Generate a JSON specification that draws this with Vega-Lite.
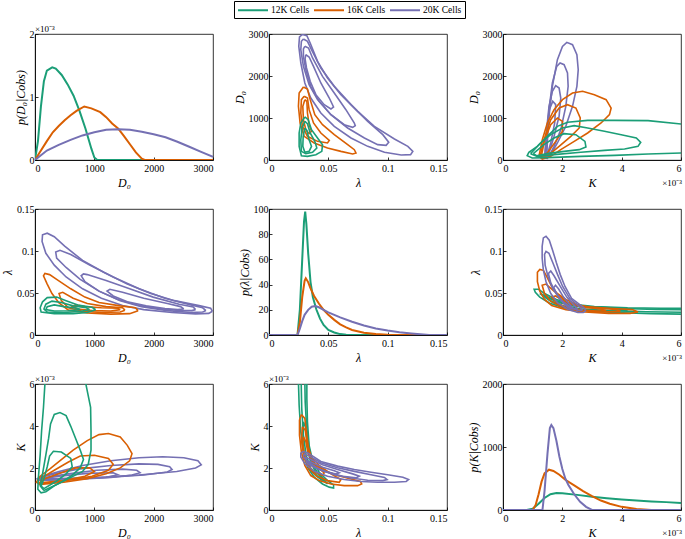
{
"$schema":"https://vega.github.io/schema/vega-lite/v6.json",
"autosize":{"type":"pad"},
"padding":{"left":1,"top":0,"right":0,"bottom":0},
"background":"white",
"columns":3,
"spacing":{"row":49,"column":56},
"bounds":"flush",
"resolve":{"scale":{"x":"independent","y":"independent","color":"shared"}},
"datasets":{
"md":[
{"s":"12K Cells","D0":0,"p":0},{"s":"12K Cells","D0":50,"p":0.3},{"s":"12K Cells","D0":100,"p":0.85},{"s":"12K Cells","D0":150,"p":1.25},{"s":"12K Cells","D0":200,"p":1.42},{"s":"12K Cells","D0":290,"p":1.47},{"s":"12K Cells","D0":350,"p":1.45},{"s":"12K Cells","D0":450,"p":1.35},{"s":"12K Cells","D0":550,"p":1.2},{"s":"12K Cells","D0":650,"p":1.02},{"s":"12K Cells","D0":750,"p":0.78},{"s":"12K Cells","D0":850,"p":0.5},{"s":"12K Cells","D0":950,"p":0.18},{"s":"12K Cells","D0":1000,"p":0.04},{"s":"12K Cells","D0":1050,"p":0},{"s":"12K Cells","D0":3000,"p":0},
{"s":"16K Cells","D0":0,"p":0},{"s":"16K Cells","D0":100,"p":0.15},{"s":"16K Cells","D0":200,"p":0.3},{"s":"16K Cells","D0":300,"p":0.44},{"s":"16K Cells","D0":400,"p":0.54},{"s":"16K Cells","D0":500,"p":0.63},{"s":"16K Cells","D0":600,"p":0.71},{"s":"16K Cells","D0":700,"p":0.78},{"s":"16K Cells","D0":830,"p":0.85},{"s":"16K Cells","D0":950,"p":0.82},{"s":"16K Cells","D0":1100,"p":0.76},{"s":"16K Cells","D0":1200,"p":0.68},{"s":"16K Cells","D0":1300,"p":0.58},{"s":"16K Cells","D0":1400,"p":0.5},{"s":"16K Cells","D0":1500,"p":0.38},{"s":"16K Cells","D0":1600,"p":0.25},{"s":"16K Cells","D0":1700,"p":0.12},{"s":"16K Cells","D0":1800,"p":0.02},{"s":"16K Cells","D0":1850,"p":0},{"s":"16K Cells","D0":3000,"p":0},
{"s":"20K Cells","D0":0,"p":0},{"s":"20K Cells","D0":200,"p":0.15},{"s":"20K Cells","D0":400,"p":0.24},{"s":"20K Cells","D0":600,"p":0.32},{"s":"20K Cells","D0":800,"p":0.39},{"s":"20K Cells","D0":1000,"p":0.44},{"s":"20K Cells","D0":1200,"p":0.48},{"s":"20K Cells","D0":1400,"p":0.49},{"s":"20K Cells","D0":1600,"p":0.48},{"s":"20K Cells","D0":1800,"p":0.45},{"s":"20K Cells","D0":2000,"p":0.41},{"s":"20K Cells","D0":2200,"p":0.36},{"s":"20K Cells","D0":2400,"p":0.29},{"s":"20K Cells","D0":2600,"p":0.21},{"s":"20K Cells","D0":2800,"p":0.13},{"s":"20K Cells","D0":3000,"p":0.05}
],
"ml":[
{"s":"12K Cells","lam":0,"p":0},{"s":"12K Cells","lam":0.024,"p":0},{"s":"12K Cells","lam":0.026,"p":20},{"s":"12K Cells","lam":0.028,"p":60},{"s":"12K Cells","lam":0.0295,"p":90},{"s":"12K Cells","lam":0.0305,"p":98},{"s":"12K Cells","lam":0.0315,"p":88},{"s":"12K Cells","lam":0.033,"p":65},{"s":"12K Cells","lam":0.035,"p":42},{"s":"12K Cells","lam":0.037,"p":30},{"s":"12K Cells","lam":0.04,"p":20},{"s":"12K Cells","lam":0.043,"p":13},{"s":"12K Cells","lam":0.046,"p":8},{"s":"12K Cells","lam":0.05,"p":4},{"s":"12K Cells","lam":0.055,"p":2},{"s":"12K Cells","lam":0.06,"p":0.7},{"s":"12K Cells","lam":0.065,"p":0.2},{"s":"12K Cells","lam":0.07,"p":0},{"s":"12K Cells","lam":0.15,"p":0},
{"s":"16K Cells","lam":0,"p":0},{"s":"16K Cells","lam":0.024,"p":0},{"s":"16K Cells","lam":0.026,"p":10},{"s":"16K Cells","lam":0.028,"p":30},{"s":"16K Cells","lam":0.03,"p":43},{"s":"16K Cells","lam":0.031,"p":45},{"s":"16K Cells","lam":0.033,"p":42},{"s":"16K Cells","lam":0.035,"p":37},{"s":"16K Cells","lam":0.038,"p":31},{"s":"16K Cells","lam":0.042,"p":25},{"s":"16K Cells","lam":0.046,"p":20},{"s":"16K Cells","lam":0.05,"p":16},{"s":"16K Cells","lam":0.055,"p":12},{"s":"16K Cells","lam":0.06,"p":8.5},{"s":"16K Cells","lam":0.065,"p":6},{"s":"16K Cells","lam":0.07,"p":4},{"s":"16K Cells","lam":0.08,"p":1.8},{"s":"16K Cells","lam":0.09,"p":0.7},{"s":"16K Cells","lam":0.1,"p":0.2},{"s":"16K Cells","lam":0.11,"p":0},{"s":"16K Cells","lam":0.15,"p":0},
{"s":"20K Cells","lam":0,"p":0},{"s":"20K Cells","lam":0.024,"p":0},{"s":"20K Cells","lam":0.026,"p":5},{"s":"20K Cells","lam":0.028,"p":11},{"s":"20K Cells","lam":0.03,"p":16},{"s":"20K Cells","lam":0.033,"p":20},{"s":"20K Cells","lam":0.036,"p":22.5},{"s":"20K Cells","lam":0.039,"p":23},{"s":"20K Cells","lam":0.042,"p":22},{"s":"20K Cells","lam":0.046,"p":20},{"s":"20K Cells","lam":0.05,"p":18},{"s":"20K Cells","lam":0.06,"p":14},{"s":"20K Cells","lam":0.07,"p":10.5},{"s":"20K Cells","lam":0.08,"p":7.5},{"s":"20K Cells","lam":0.09,"p":5.2},{"s":"20K Cells","lam":0.1,"p":3.5},{"s":"20K Cells","lam":0.11,"p":2.2},{"s":"20K Cells","lam":0.12,"p":1.2},{"s":"20K Cells","lam":0.13,"p":0.4},{"s":"20K Cells","lam":0.135,"p":0},{"s":"20K Cells","lam":0.15,"p":0}
],
"mk":[
{"s":"12K Cells","K":0,"p":0},{"s":"12K Cells","K":0.8,"p":0},{"s":"12K Cells","K":1.0,"p":20},{"s":"12K Cells","K":1.2,"p":100},{"s":"12K Cells","K":1.4,"p":190},{"s":"12K Cells","K":1.6,"p":250},{"s":"12K Cells","K":1.8,"p":270},{"s":"12K Cells","K":2.0,"p":265},{"s":"12K Cells","K":2.5,"p":240},{"s":"12K Cells","K":3.0,"p":210},{"s":"12K Cells","K":3.5,"p":185},{"s":"12K Cells","K":4.0,"p":165},{"s":"12K Cells","K":4.5,"p":150},{"s":"12K Cells","K":5.0,"p":135},{"s":"12K Cells","K":5.5,"p":125},{"s":"12K Cells","K":6.0,"p":110},
{"s":"16K Cells","K":0,"p":0},{"s":"16K Cells","K":1.0,"p":0},{"s":"16K Cells","K":1.1,"p":80},{"s":"16K Cells","K":1.2,"p":250},{"s":"16K Cells","K":1.3,"p":450},{"s":"16K Cells","K":1.4,"p":580},{"s":"16K Cells","K":1.55,"p":640},{"s":"16K Cells","K":1.7,"p":620},{"s":"16K Cells","K":1.9,"p":560},{"s":"16K Cells","K":2.1,"p":480},{"s":"16K Cells","K":2.4,"p":390},{"s":"16K Cells","K":2.7,"p":300},{"s":"16K Cells","K":3.0,"p":220},{"s":"16K Cells","K":3.3,"p":150},{"s":"16K Cells","K":3.6,"p":100},{"s":"16K Cells","K":4.0,"p":50},{"s":"16K Cells","K":4.5,"p":15},{"s":"16K Cells","K":5.0,"p":0},{"s":"16K Cells","K":6.0,"p":0},
{"s":"20K Cells","K":0,"p":0},{"s":"20K Cells","K":1.33,"p":0},{"s":"20K Cells","K":1.4,"p":300},{"s":"20K Cells","K":1.5,"p":900},{"s":"20K Cells","K":1.58,"p":1300},{"s":"20K Cells","K":1.63,"p":1350},{"s":"20K Cells","K":1.7,"p":1300},{"s":"20K Cells","K":1.8,"p":1100},{"s":"20K Cells","K":1.9,"p":850},{"s":"20K Cells","K":2.0,"p":650},{"s":"20K Cells","K":2.1,"p":500},{"s":"20K Cells","K":2.2,"p":400},{"s":"20K Cells","K":2.4,"p":250},{"s":"20K Cells","K":2.6,"p":130},{"s":"20K Cells","K":2.8,"p":50},{"s":"20K Cells","K":3.0,"p":0},{"s":"20K Cells","K":6.0,"p":0}
],
"dl":[
{"s":"20K Cells","c":"p1","o":0,"lam":0.0282,"D0":2990},{"s":"20K Cells","c":"p1","o":1,"lam":0.0319,"D0":2960},{"s":"20K Cells","c":"p1","o":2,"lam":0.0347,"D0":2786},{"s":"20K Cells","c":"p1","o":3,"lam":0.0409,"D0":2349},{"s":"20K Cells","c":"p1","o":4,"lam":0.0493,"D0":1952},{"s":"20K Cells","c":"p1","o":5,"lam":0.0606,"D0":1556},{"s":"20K Cells","c":"p1","o":6,"lam":0.0747,"D0":1159},{"s":"20K Cells","c":"p1","o":7,"lam":0.0888,"D0":802},{"s":"20K Cells","c":"p1","o":8,"lam":0.1057,"D0":500},{"s":"20K Cells","c":"p1","o":9,"lam":0.117,"D0":325},{"s":"20K Cells","c":"p1","o":10,"lam":0.1212,"D0":206},{"s":"20K Cells","c":"p1","o":11,"lam":0.1193,"D0":127},{"s":"20K Cells","c":"p1","o":12,"lam":0.1114,"D0":119},{"s":"20K Cells","c":"p1","o":13,"lam":0.0973,"D0":183},{"s":"20K Cells","c":"p1","o":14,"lam":0.0832,"D0":325},{"s":"20K Cells","c":"p1","o":15,"lam":0.0691,"D0":524},{"s":"20K Cells","c":"p1","o":16,"lam":0.055,"D0":802},{"s":"20K Cells","c":"p1","o":17,"lam":0.0437,"D0":1119},{"s":"20K Cells","c":"p1","o":18,"lam":0.0352,"D0":1476},{"s":"20K Cells","c":"p1","o":19,"lam":0.0302,"D0":1833},{"s":"20K Cells","c":"p1","o":20,"lam":0.0268,"D0":2310},{"s":"20K Cells","c":"p1","o":21,"lam":0.0251,"D0":2706},{"s":"20K Cells","c":"p1","o":22,"lam":0.0257,"D0":2929},{"s":"20K Cells","c":"p1","o":23,"lam":0.0282,"D0":2990},
{"s":"20K Cells","c":"p2","o":0,"lam":0.029,"D0":2881},{"s":"20K Cells","c":"p2","o":1,"lam":0.0324,"D0":2826},{"s":"20K Cells","c":"p2","o":2,"lam":0.0358,"D0":2627},{"s":"20K Cells","c":"p2","o":3,"lam":0.0437,"D0":2190},{"s":"20K Cells","c":"p2","o":4,"lam":0.055,"D0":1754},{"s":"20K Cells","c":"p2","o":5,"lam":0.0691,"D0":1318},{"s":"20K Cells","c":"p2","o":6,"lam":0.0832,"D0":921},{"s":"20K Cells","c":"p2","o":7,"lam":0.0959,"D0":603},{"s":"20K Cells","c":"p2","o":8,"lam":0.1009,"D0":421},{"s":"20K Cells","c":"p2","o":9,"lam":0.0987,"D0":349},{"s":"20K Cells","c":"p2","o":10,"lam":0.0916,"D0":365},{"s":"20K Cells","c":"p2","o":11,"lam":0.0804,"D0":524},{"s":"20K Cells","c":"p2","o":12,"lam":0.0663,"D0":762},{"s":"20K Cells","c":"p2","o":13,"lam":0.0522,"D0":1079},{"s":"20K Cells","c":"p2","o":14,"lam":0.0409,"D0":1437},{"s":"20K Cells","c":"p2","o":15,"lam":0.0338,"D0":1794},{"s":"20K Cells","c":"p2","o":16,"lam":0.029,"D0":2230},{"s":"20K Cells","c":"p2","o":17,"lam":0.0268,"D0":2627},{"s":"20K Cells","c":"p2","o":18,"lam":0.0273,"D0":2826},{"s":"20K Cells","c":"p2","o":19,"lam":0.029,"D0":2881},
{"s":"20K Cells","c":"p3","o":0,"lam":0.0302,"D0":2706},{"s":"20K Cells","c":"p3","o":1,"lam":0.0333,"D0":2667},{"s":"20K Cells","c":"p3","o":2,"lam":0.0367,"D0":2429},{"s":"20K Cells","c":"p3","o":3,"lam":0.0451,"D0":1992},{"s":"20K Cells","c":"p3","o":4,"lam":0.055,"D0":1595},{"s":"20K Cells","c":"p3","o":5,"lam":0.0648,"D0":1198},{"s":"20K Cells","c":"p3","o":6,"lam":0.0719,"D0":881},{"s":"20K Cells","c":"p3","o":7,"lam":0.0727,"D0":817},{"s":"20K Cells","c":"p3","o":8,"lam":0.0705,"D0":778},{"s":"20K Cells","c":"p3","o":9,"lam":0.0634,"D0":841},{"s":"20K Cells","c":"p3","o":10,"lam":0.0522,"D0":1079},{"s":"20K Cells","c":"p3","o":11,"lam":0.0423,"D0":1397},{"s":"20K Cells","c":"p3","o":12,"lam":0.0352,"D0":1754},{"s":"20K Cells","c":"p3","o":13,"lam":0.031,"D0":2151},{"s":"20K Cells","c":"p3","o":14,"lam":0.029,"D0":2468},{"s":"20K Cells","c":"p3","o":15,"lam":0.029,"D0":2643},{"s":"20K Cells","c":"p3","o":16,"lam":0.0302,"D0":2706},
{"s":"20K Cells","c":"p4","o":0,"lam":0.031,"D0":2508},{"s":"20K Cells","c":"p4","o":1,"lam":0.0338,"D0":2453},{"s":"20K Cells","c":"p4","o":2,"lam":0.0375,"D0":2230},{"s":"20K Cells","c":"p4","o":3,"lam":0.0437,"D0":1833},{"s":"20K Cells","c":"p4","o":4,"lam":0.0508,"D0":1476},{"s":"20K Cells","c":"p4","o":5,"lam":0.0544,"D0":1262},{"s":"20K Cells","c":"p4","o":6,"lam":0.0522,"D0":1214},{"s":"20K Cells","c":"p4","o":7,"lam":0.0465,"D0":1318},{"s":"20K Cells","c":"p4","o":8,"lam":0.0395,"D0":1556},{"s":"20K Cells","c":"p4","o":9,"lam":0.0347,"D0":1873},{"s":"20K Cells","c":"p4","o":10,"lam":0.0316,"D0":2191},{"s":"20K Cells","c":"p4","o":11,"lam":0.0304,"D0":2405},{"s":"20K Cells","c":"p4","o":12,"lam":0.031,"D0":2508},
{"s":"16K Cells","c":"o1","o":0,"lam":0.029,"D0":1738},{"s":"16K Cells","c":"o1","o":1,"lam":0.0324,"D0":1691},{"s":"16K Cells","c":"o1","o":2,"lam":0.0347,"D0":1437},{"s":"16K Cells","c":"o1","o":3,"lam":0.0386,"D0":1079},{"s":"16K Cells","c":"o1","o":4,"lam":0.0451,"D0":841},{"s":"16K Cells","c":"o1","o":5,"lam":0.055,"D0":603},{"s":"16K Cells","c":"o1","o":6,"lam":0.0663,"D0":365},{"s":"16K Cells","c":"o1","o":7,"lam":0.0719,"D0":246},{"s":"16K Cells","c":"o1","o":8,"lam":0.0733,"D0":167},{"s":"16K Cells","c":"o1","o":9,"lam":0.0705,"D0":143},{"s":"16K Cells","c":"o1","o":10,"lam":0.0606,"D0":206},{"s":"16K Cells","c":"o1","o":11,"lam":0.0493,"D0":286},{"s":"16K Cells","c":"o1","o":12,"lam":0.0381,"D0":405},{"s":"16K Cells","c":"o1","o":13,"lam":0.0296,"D0":564},{"s":"16K Cells","c":"o1","o":14,"lam":0.0262,"D0":881},{"s":"16K Cells","c":"o1","o":15,"lam":0.0248,"D0":1278},{"s":"16K Cells","c":"o1","o":16,"lam":0.0254,"D0":1595},{"s":"16K Cells","c":"o1","o":17,"lam":0.029,"D0":1738},
{"s":"16K Cells","c":"o2","o":0,"lam":0.0296,"D0":1516},{"s":"16K Cells","c":"o2","o":1,"lam":0.0324,"D0":1476},{"s":"16K Cells","c":"o2","o":2,"lam":0.0338,"D0":1198},{"s":"16K Cells","c":"o2","o":3,"lam":0.0375,"D0":881},{"s":"16K Cells","c":"o2","o":4,"lam":0.0437,"D0":643},{"s":"16K Cells","c":"o2","o":5,"lam":0.0508,"D0":468},{"s":"16K Cells","c":"o2","o":6,"lam":0.0493,"D0":405},{"s":"16K Cells","c":"o2","o":7,"lam":0.0409,"D0":444},{"s":"16K Cells","c":"o2","o":8,"lam":0.0324,"D0":564},{"s":"16K Cells","c":"o2","o":9,"lam":0.0282,"D0":802},{"s":"16K Cells","c":"o2","o":10,"lam":0.0268,"D0":1119},{"s":"16K Cells","c":"o2","o":11,"lam":0.0273,"D0":1437},{"s":"16K Cells","c":"o2","o":12,"lam":0.0296,"D0":1516},
{"s":"16K Cells","c":"o3","o":0,"lam":0.0302,"D0":1437},{"s":"16K Cells","c":"o3","o":1,"lam":0.0319,"D0":1397},{"s":"16K Cells","c":"o3","o":2,"lam":0.0324,"D0":1119},{"s":"16K Cells","c":"o3","o":3,"lam":0.0338,"D0":841},{"s":"16K Cells","c":"o3","o":4,"lam":0.0358,"D0":683},{"s":"16K Cells","c":"o3","o":5,"lam":0.0338,"D0":627},{"s":"16K Cells","c":"o3","o":6,"lam":0.031,"D0":722},{"s":"16K Cells","c":"o3","o":7,"lam":0.029,"D0":960},{"s":"16K Cells","c":"o3","o":8,"lam":0.0285,"D0":1278},{"s":"16K Cells","c":"o3","o":9,"lam":0.0302,"D0":1437},
{"s":"12K Cells","c":"g1","o":0,"lam":0.0302,"D0":1024},{"s":"12K Cells","c":"g1","o":1,"lam":0.033,"D0":960},{"s":"12K Cells","c":"g1","o":2,"lam":0.0358,"D0":722},{"s":"12K Cells","c":"g1","o":3,"lam":0.0409,"D0":524},{"s":"12K Cells","c":"g1","o":4,"lam":0.0451,"D0":365},{"s":"12K Cells","c":"g1","o":5,"lam":0.0445,"D0":206},{"s":"12K Cells","c":"g1","o":6,"lam":0.0395,"D0":127},{"s":"12K Cells","c":"g1","o":7,"lam":0.0324,"D0":87},{"s":"12K Cells","c":"g1","o":8,"lam":0.0273,"D0":103},{"s":"12K Cells","c":"g1","o":9,"lam":0.0254,"D0":325},{"s":"12K Cells","c":"g1","o":10,"lam":0.0254,"D0":643},{"s":"12K Cells","c":"g1","o":11,"lam":0.0268,"D0":881},{"s":"12K Cells","c":"g1","o":12,"lam":0.0302,"D0":1024},
{"s":"12K Cells","c":"g2","o":0,"lam":0.0302,"D0":921},{"s":"12K Cells","c":"g2","o":1,"lam":0.0324,"D0":865},{"s":"12K Cells","c":"g2","o":2,"lam":0.0347,"D0":643},{"s":"12K Cells","c":"g2","o":3,"lam":0.0386,"D0":444},{"s":"12K Cells","c":"g2","o":4,"lam":0.0403,"D0":286},{"s":"12K Cells","c":"g2","o":5,"lam":0.0367,"D0":183},{"s":"12K Cells","c":"g2","o":6,"lam":0.031,"D0":151},{"s":"12K Cells","c":"g2","o":7,"lam":0.0273,"D0":206},{"s":"12K Cells","c":"g2","o":8,"lam":0.0268,"D0":484},{"s":"12K Cells","c":"g2","o":9,"lam":0.0279,"D0":762},{"s":"12K Cells","c":"g2","o":10,"lam":0.0302,"D0":921},
{"s":"12K Cells","c":"g3","o":0,"lam":0.0302,"D0":762},{"s":"12K Cells","c":"g3","o":1,"lam":0.0319,"D0":706},{"s":"12K Cells","c":"g3","o":2,"lam":0.0338,"D0":484},{"s":"12K Cells","c":"g3","o":3,"lam":0.0358,"D0":325},{"s":"12K Cells","c":"g3","o":4,"lam":0.0338,"D0":206},{"s":"12K Cells","c":"g3","o":5,"lam":0.0302,"D0":183},{"s":"12K Cells","c":"g3","o":6,"lam":0.0285,"D0":325},{"s":"12K Cells","c":"g3","o":7,"lam":0.0288,"D0":564},{"s":"12K Cells","c":"g3","o":8,"lam":0.0302,"D0":762}
],
"dk":[
{"s":"20K Cells","c":"p1","o":0,"K":1.472,"D0":24},{"s":"20K Cells","c":"p1","o":1,"K":1.494,"D0":405},{"s":"20K Cells","c":"p1","o":2,"K":1.551,"D0":1040},{"s":"20K Cells","c":"p1","o":3,"K":1.664,"D0":1754},{"s":"20K Cells","c":"p1","o":4,"K":1.834,"D0":2389},{"s":"20K Cells","c":"p1","o":5,"K":2.004,"D0":2706},{"s":"20K Cells","c":"p1","o":6,"K":2.151,"D0":2802},{"s":"20K Cells","c":"p1","o":7,"K":2.343,"D0":2746},{"s":"20K Cells","c":"p1","o":8,"K":2.491,"D0":2508},{"s":"20K Cells","c":"p1","o":9,"K":2.536,"D0":2151},{"s":"20K Cells","c":"p1","o":10,"K":2.491,"D0":1754},{"s":"20K Cells","c":"p1","o":11,"K":2.343,"D0":1278},{"s":"20K Cells","c":"p1","o":12,"K":2.117,"D0":802},{"s":"20K Cells","c":"p1","o":13,"K":1.834,"D0":405},{"s":"20K Cells","c":"p1","o":14,"K":1.608,"D0":127},{"s":"20K Cells","c":"p1","o":15,"K":1.472,"D0":24},
{"s":"20K Cells","c":"p2","o":0,"K":1.438,"D0":48},{"s":"20K Cells","c":"p2","o":1,"K":1.472,"D0":484},{"s":"20K Cells","c":"p2","o":2,"K":1.551,"D0":1198},{"s":"20K Cells","c":"p2","o":3,"K":1.664,"D0":1833},{"s":"20K Cells","c":"p2","o":4,"K":1.811,"D0":2230},{"s":"20K Cells","c":"p2","o":5,"K":1.925,"D0":2310},{"s":"20K Cells","c":"p2","o":6,"K":2.06,"D0":2270},{"s":"20K Cells","c":"p2","o":7,"K":2.174,"D0":2072},{"s":"20K Cells","c":"p2","o":8,"K":2.196,"D0":1754},{"s":"20K Cells","c":"p2","o":9,"K":2.117,"D0":1278},{"s":"20K Cells","c":"p2","o":10,"K":1.947,"D0":722},{"s":"20K Cells","c":"p2","o":11,"K":1.721,"D0":325},{"s":"20K Cells","c":"p2","o":12,"K":1.551,"D0":87},{"s":"20K Cells","c":"p2","o":13,"K":1.438,"D0":48},
{"s":"20K Cells","c":"p3","o":0,"K":1.415,"D0":48},{"s":"20K Cells","c":"p3","o":1,"K":1.46,"D0":643},{"s":"20K Cells","c":"p3","o":2,"K":1.551,"D0":1278},{"s":"20K Cells","c":"p3","o":3,"K":1.664,"D0":1635},{"s":"20K Cells","c":"p3","o":4,"K":1.777,"D0":1770},{"s":"20K Cells","c":"p3","o":5,"K":1.891,"D0":1714},{"s":"20K Cells","c":"p3","o":6,"K":1.947,"D0":1476},{"s":"20K Cells","c":"p3","o":7,"K":1.891,"D0":1040},{"s":"20K Cells","c":"p3","o":8,"K":1.721,"D0":564},{"s":"20K Cells","c":"p3","o":9,"K":1.551,"D0":167},{"s":"20K Cells","c":"p3","o":10,"K":1.415,"D0":48},
{"s":"20K Cells","c":"p4","o":0,"K":1.404,"D0":87},{"s":"20K Cells","c":"p4","o":1,"K":1.472,"D0":643},{"s":"20K Cells","c":"p4","o":2,"K":1.562,"D0":1198},{"s":"20K Cells","c":"p4","o":3,"K":1.676,"D0":1397},{"s":"20K Cells","c":"p4","o":4,"K":1.777,"D0":1318},{"s":"20K Cells","c":"p4","o":5,"K":1.743,"D0":881},{"s":"20K Cells","c":"p4","o":6,"K":1.608,"D0":405},{"s":"20K Cells","c":"p4","o":7,"K":1.494,"D0":127},{"s":"20K Cells","c":"p4","o":8,"K":1.404,"D0":87},
{"s":"16K Cells","c":"o1","o":0,"K":1.211,"D0":87},{"s":"16K Cells","c":"o1","o":1,"K":1.325,"D0":484},{"s":"16K Cells","c":"o1","o":2,"K":1.494,"D0":881},{"s":"16K Cells","c":"o1","o":3,"K":1.721,"D0":1198},{"s":"16K Cells","c":"o1","o":4,"K":2.004,"D0":1437},{"s":"16K Cells","c":"o1","o":5,"K":2.343,"D0":1595},{"s":"16K Cells","c":"o1","o":6,"K":2.683,"D0":1635},{"s":"16K Cells","c":"o1","o":7,"K":3.079,"D0":1556},{"s":"16K Cells","c":"o1","o":8,"K":3.476,"D0":1437},{"s":"16K Cells","c":"o1","o":9,"K":3.645,"D0":1238},{"s":"16K Cells","c":"o1","o":10,"K":3.589,"D0":1079},{"s":"16K Cells","c":"o1","o":11,"K":3.306,"D0":881},{"s":"16K Cells","c":"o1","o":12,"K":2.853,"D0":643},{"s":"16K Cells","c":"o1","o":13,"K":2.4,"D0":444},{"s":"16K Cells","c":"o1","o":14,"K":1.947,"D0":246},{"s":"16K Cells","c":"o1","o":15,"K":1.608,"D0":87},{"s":"16K Cells","c":"o1","o":16,"K":1.325,"D0":24},{"s":"16K Cells","c":"o1","o":17,"K":1.211,"D0":87},
{"s":"16K Cells","c":"o2","o":0,"K":1.245,"D0":71},{"s":"16K Cells","c":"o2","o":1,"K":1.381,"D0":484},{"s":"16K Cells","c":"o2","o":2,"K":1.608,"D0":960},{"s":"16K Cells","c":"o2","o":3,"K":1.891,"D0":1238},{"s":"16K Cells","c":"o2","o":4,"K":2.174,"D0":1318},{"s":"16K Cells","c":"o2","o":5,"K":2.457,"D0":1238},{"s":"16K Cells","c":"o2","o":6,"K":2.604,"D0":1000},{"s":"16K Cells","c":"o2","o":7,"K":2.57,"D0":762},{"s":"16K Cells","c":"o2","o":8,"K":2.287,"D0":564},{"s":"16K Cells","c":"o2","o":9,"K":1.891,"D0":325},{"s":"16K Cells","c":"o2","o":10,"K":1.551,"D0":127},{"s":"16K Cells","c":"o2","o":11,"K":1.245,"D0":71},
{"s":"16K Cells","c":"o3","o":0,"K":1.291,"D0":87},{"s":"16K Cells","c":"o3","o":1,"K":1.404,"D0":484},{"s":"16K Cells","c":"o3","o":2,"K":1.608,"D0":841},{"s":"16K Cells","c":"o3","o":3,"K":1.834,"D0":1000},{"s":"16K Cells","c":"o3","o":4,"K":2.004,"D0":921},{"s":"16K Cells","c":"o3","o":5,"K":2.004,"D0":683},{"s":"16K Cells","c":"o3","o":6,"K":1.777,"D0":444},{"s":"16K Cells","c":"o3","o":7,"K":1.494,"D0":167},{"s":"16K Cells","c":"o3","o":8,"K":1.291,"D0":87},
{"s":"12K Cells","c":"g1","o":0,"K":6.249,"D0":167},{"s":"12K Cells","c":"g1","o":1,"K":6.0,"D0":167},{"s":"12K Cells","c":"g1","o":2,"K":4.891,"D0":143},{"s":"12K Cells","c":"g1","o":3,"K":3.759,"D0":111},{"s":"12K Cells","c":"g1","o":4,"K":2.626,"D0":87},{"s":"12K Cells","c":"g1","o":5,"K":1.494,"D0":56},{"s":"12K Cells","c":"g1","o":6,"K":0.985,"D0":48},{"s":"12K Cells","c":"g1","o":7,"K":0.815,"D0":103},{"s":"12K Cells","c":"g1","o":8,"K":0.872,"D0":183},{"s":"12K Cells","c":"g1","o":9,"K":1.155,"D0":325},{"s":"12K Cells","c":"g1","o":10,"K":1.494,"D0":564},{"s":"12K Cells","c":"g1","o":11,"K":1.834,"D0":802},{"s":"12K Cells","c":"g1","o":12,"K":2.174,"D0":897},{"s":"12K Cells","c":"g1","o":13,"K":2.853,"D0":944},{"s":"12K Cells","c":"g1","o":14,"K":3.759,"D0":944},{"s":"12K Cells","c":"g1","o":15,"K":4.891,"D0":937},{"s":"12K Cells","c":"g1","o":16,"K":6.0,"D0":857},{"s":"12K Cells","c":"g1","o":17,"K":6.249,"D0":857},{"s":"12K Cells","c":"g1","o":18,"K":6.249,"D0":167},
{"s":"12K Cells","c":"g2","o":0,"K":0.928,"D0":151},{"s":"12K Cells","c":"g2","o":1,"K":1.268,"D0":405},{"s":"12K Cells","c":"g2","o":2,"K":1.608,"D0":603},{"s":"12K Cells","c":"g2","o":3,"K":2.004,"D0":762},{"s":"12K Cells","c":"g2","o":4,"K":2.4,"D0":817},{"s":"12K Cells","c":"g2","o":5,"K":2.853,"D0":762},{"s":"12K Cells","c":"g2","o":6,"K":3.419,"D0":683},{"s":"12K Cells","c":"g2","o":7,"K":3.985,"D0":603},{"s":"12K Cells","c":"g2","o":8,"K":4.494,"D0":524},{"s":"12K Cells","c":"g2","o":9,"K":4.642,"D0":421},{"s":"12K Cells","c":"g2","o":10,"K":4.551,"D0":325},{"s":"12K Cells","c":"g2","o":11,"K":4.098,"D0":262},{"s":"12K Cells","c":"g2","o":12,"K":3.419,"D0":230},{"s":"12K Cells","c":"g2","o":13,"K":2.626,"D0":183},{"s":"12K Cells","c":"g2","o":14,"K":1.721,"D0":127},{"s":"12K Cells","c":"g2","o":15,"K":1.155,"D0":87},{"s":"12K Cells","c":"g2","o":16,"K":0.928,"D0":151},
{"s":"12K Cells","c":"g3","o":0,"K":1.019,"D0":151},{"s":"12K Cells","c":"g3","o":1,"K":1.381,"D0":365},{"s":"12K Cells","c":"g3","o":2,"K":1.721,"D0":524},{"s":"12K Cells","c":"g3","o":3,"K":2.06,"D0":627},{"s":"12K Cells","c":"g3","o":4,"K":2.457,"D0":603},{"s":"12K Cells","c":"g3","o":5,"K":2.762,"D0":444},{"s":"12K Cells","c":"g3","o":6,"K":2.796,"D0":310},{"s":"12K Cells","c":"g3","o":7,"K":2.57,"D0":246},{"s":"12K Cells","c":"g3","o":8,"K":2.06,"D0":206},{"s":"12K Cells","c":"g3","o":9,"K":1.494,"D0":151},{"s":"12K Cells","c":"g3","o":10,"K":1.132,"D0":103},{"s":"12K Cells","c":"g3","o":11,"K":1.019,"D0":151}
],
"lk":[
{"s":"12K Cells","c":"g1","o":0,"lam":0.0248,"K":6.11},{"s":"12K Cells","c":"g1","o":1,"lam":0.0254,"K":4.99},{"s":"12K Cells","c":"g1","o":2,"lam":0.0268,"K":3.72},{"s":"12K Cells","c":"g1","o":3,"lam":0.029,"K":2.76},{"s":"12K Cells","c":"g1","o":4,"lam":0.0324,"K":2.04},{"s":"12K Cells","c":"g1","o":5,"lam":0.0381,"K":1.56},{"s":"12K Cells","c":"g1","o":6,"lam":0.0451,"K":1.24},{"s":"12K Cells","c":"g1","o":7,"lam":0.0508,"K":1.09},{"s":"12K Cells","c":"g1","o":8,"lam":0.0544,"K":1.05},{"s":"12K Cells","c":"g1","o":9,"lam":0.0544,"K":1.2},{"s":"12K Cells","c":"g1","o":10,"lam":0.0493,"K":1.4},{"s":"12K Cells","c":"g1","o":11,"lam":0.0423,"K":1.8},{"s":"12K Cells","c":"g1","o":12,"lam":0.0367,"K":2.36},{"s":"12K Cells","c":"g1","o":13,"lam":0.0338,"K":3.08},{"s":"12K Cells","c":"g1","o":14,"lam":0.0324,"K":4.2},{"s":"12K Cells","c":"g1","o":15,"lam":0.0319,"K":5.31},{"s":"12K Cells","c":"g1","o":16,"lam":0.0319,"K":6.11},{"s":"12K Cells","c":"g1","o":17,"lam":0.0248,"K":6.11},
{"s":"12K Cells","c":"g2","o":0,"lam":0.0271,"K":6.11},{"s":"12K Cells","c":"g2","o":1,"lam":0.0276,"K":4.83},{"s":"12K Cells","c":"g2","o":2,"lam":0.029,"K":3.56},{"s":"12K Cells","c":"g2","o":3,"lam":0.0313,"K":2.6},{"s":"12K Cells","c":"g2","o":4,"lam":0.0352,"K":1.96},{"s":"12K Cells","c":"g2","o":5,"lam":0.0409,"K":1.61},{"s":"12K Cells","c":"g2","o":6,"lam":0.0465,"K":1.36},{"s":"12K Cells","c":"g2","o":7,"lam":0.0493,"K":1.24},{"s":"12K Cells","c":"g2","o":8,"lam":0.0465,"K":1.45},{"s":"12K Cells","c":"g2","o":9,"lam":0.0409,"K":1.77},{"s":"12K Cells","c":"g2","o":10,"lam":0.0367,"K":2.2},{"s":"12K Cells","c":"g2","o":11,"lam":0.0338,"K":2.92},{"s":"12K Cells","c":"g2","o":12,"lam":0.0316,"K":4.04},{"s":"12K Cells","c":"g2","o":13,"lam":0.0305,"K":5.15},{"s":"12K Cells","c":"g2","o":14,"lam":0.0302,"K":6.11},{"s":"12K Cells","c":"g2","o":15,"lam":0.0271,"K":6.11},
{"s":"12K Cells","c":"g3","o":0,"lam":0.029,"K":4.2},{"s":"12K Cells","c":"g3","o":1,"lam":0.0285,"K":3.24},{"s":"12K Cells","c":"g3","o":2,"lam":0.0302,"K":2.44},{"s":"12K Cells","c":"g3","o":3,"lam":0.0338,"K":1.96},{"s":"12K Cells","c":"g3","o":4,"lam":0.0395,"K":1.64},{"s":"12K Cells","c":"g3","o":5,"lam":0.0451,"K":1.4},{"s":"12K Cells","c":"g3","o":6,"lam":0.0437,"K":1.56},{"s":"12K Cells","c":"g3","o":7,"lam":0.0386,"K":1.88},{"s":"12K Cells","c":"g3","o":8,"lam":0.0347,"K":2.36},{"s":"12K Cells","c":"g3","o":9,"lam":0.0324,"K":3.08},{"s":"12K Cells","c":"g3","o":10,"lam":0.0307,"K":3.96},{"s":"12K Cells","c":"g3","o":11,"lam":0.029,"K":4.2},
{"s":"16K Cells","c":"o1","o":0,"lam":0.0273,"K":4.55},{"s":"16K Cells","c":"o1","o":1,"lam":0.0302,"K":4.36},{"s":"16K Cells","c":"o1","o":2,"lam":0.0319,"K":3.56},{"s":"16K Cells","c":"o1","o":3,"lam":0.0338,"K":2.76},{"s":"16K Cells","c":"o1","o":4,"lam":0.0386,"K":2.2},{"s":"16K Cells","c":"o1","o":5,"lam":0.0465,"K":1.88},{"s":"16K Cells","c":"o1","o":6,"lam":0.0578,"K":1.64},{"s":"16K Cells","c":"o1","o":7,"lam":0.0691,"K":1.48},{"s":"16K Cells","c":"o1","o":8,"lam":0.077,"K":1.36},{"s":"16K Cells","c":"o1","o":9,"lam":0.0781,"K":1.24},{"s":"16K Cells","c":"o1","o":10,"lam":0.0747,"K":1.16},{"s":"16K Cells","c":"o1","o":11,"lam":0.0634,"K":1.16},{"s":"16K Cells","c":"o1","o":12,"lam":0.0522,"K":1.24},{"s":"16K Cells","c":"o1","o":13,"lam":0.0423,"K":1.4},{"s":"16K Cells","c":"o1","o":14,"lam":0.0352,"K":1.64},{"s":"16K Cells","c":"o1","o":15,"lam":0.0302,"K":2.12},{"s":"16K Cells","c":"o1","o":16,"lam":0.0273,"K":2.76},{"s":"16K Cells","c":"o1","o":17,"lam":0.0257,"K":3.56},{"s":"16K Cells","c":"o1","o":18,"lam":0.0257,"K":4.28},{"s":"16K Cells","c":"o1","o":19,"lam":0.0273,"K":4.55},
{"s":"16K Cells","c":"o2","o":0,"lam":0.0282,"K":3.96},{"s":"16K Cells","c":"o2","o":1,"lam":0.0305,"K":3.8},{"s":"16K Cells","c":"o2","o":2,"lam":0.0324,"K":3.08},{"s":"16K Cells","c":"o2","o":3,"lam":0.0358,"K":2.52},{"s":"16K Cells","c":"o2","o":4,"lam":0.0423,"K":2.12},{"s":"16K Cells","c":"o2","o":5,"lam":0.0522,"K":1.72},{"s":"16K Cells","c":"o2","o":6,"lam":0.0606,"K":1.45},{"s":"16K Cells","c":"o2","o":7,"lam":0.0592,"K":1.32},{"s":"16K Cells","c":"o2","o":8,"lam":0.0493,"K":1.4},{"s":"16K Cells","c":"o2","o":9,"lam":0.0403,"K":1.61},{"s":"16K Cells","c":"o2","o":10,"lam":0.0338,"K":1.96},{"s":"16K Cells","c":"o2","o":11,"lam":0.0296,"K":2.52},{"s":"16K Cells","c":"o2","o":12,"lam":0.0273,"K":3.32},{"s":"16K Cells","c":"o2","o":13,"lam":0.0282,"K":3.96},
{"s":"16K Cells","c":"o3","o":0,"lam":0.029,"K":3.48},{"s":"16K Cells","c":"o3","o":1,"lam":0.031,"K":3.27},{"s":"16K Cells","c":"o3","o":2,"lam":0.033,"K":2.68},{"s":"16K Cells","c":"o3","o":3,"lam":0.0375,"K":2.2},{"s":"16K Cells","c":"o3","o":4,"lam":0.0465,"K":1.77},{"s":"16K Cells","c":"o3","o":5,"lam":0.0451,"K":1.64},{"s":"16K Cells","c":"o3","o":6,"lam":0.0386,"K":1.8},{"s":"16K Cells","c":"o3","o":7,"lam":0.033,"K":2.12},{"s":"16K Cells","c":"o3","o":8,"lam":0.0296,"K":2.68},{"s":"16K Cells","c":"o3","o":9,"lam":0.0285,"K":3.16},{"s":"16K Cells","c":"o3","o":10,"lam":0.029,"K":3.48},
{"s":"20K Cells","c":"p1","o":0,"lam":0.029,"K":2.79},{"s":"20K Cells","c":"p1","o":1,"lam":0.0324,"K":2.73},{"s":"20K Cells","c":"p1","o":2,"lam":0.0437,"K":2.31},{"s":"20K Cells","c":"p1","o":3,"lam":0.0578,"K":2.09},{"s":"20K Cells","c":"p1","o":4,"lam":0.0719,"K":1.93},{"s":"20K Cells","c":"p1","o":5,"lam":0.086,"K":1.8},{"s":"20K Cells","c":"p1","o":6,"lam":0.1001,"K":1.68},{"s":"20K Cells","c":"p1","o":7,"lam":0.1128,"K":1.56},{"s":"20K Cells","c":"p1","o":8,"lam":0.1176,"K":1.45},{"s":"20K Cells","c":"p1","o":9,"lam":0.1156,"K":1.36},{"s":"20K Cells","c":"p1","o":10,"lam":0.1057,"K":1.32},{"s":"20K Cells","c":"p1","o":11,"lam":0.0916,"K":1.32},{"s":"20K Cells","c":"p1","o":12,"lam":0.0775,"K":1.36},{"s":"20K Cells","c":"p1","o":13,"lam":0.0634,"K":1.45},{"s":"20K Cells","c":"p1","o":14,"lam":0.0493,"K":1.61},{"s":"20K Cells","c":"p1","o":15,"lam":0.0381,"K":1.84},{"s":"20K Cells","c":"p1","o":16,"lam":0.0302,"K":2.2},{"s":"20K Cells","c":"p1","o":17,"lam":0.0268,"K":2.52},{"s":"20K Cells","c":"p1","o":18,"lam":0.0268,"K":2.71},{"s":"20K Cells","c":"p1","o":19,"lam":0.029,"K":2.79},
{"s":"20K Cells","c":"p2","o":0,"lam":0.0296,"K":2.68},{"s":"20K Cells","c":"p2","o":1,"lam":0.033,"K":2.6},{"s":"20K Cells","c":"p2","o":2,"lam":0.0437,"K":2.25},{"s":"20K Cells","c":"p2","o":3,"lam":0.0578,"K":2.01},{"s":"20K Cells","c":"p2","o":4,"lam":0.0719,"K":1.84},{"s":"20K Cells","c":"p2","o":5,"lam":0.086,"K":1.68},{"s":"20K Cells","c":"p2","o":6,"lam":0.0973,"K":1.55},{"s":"20K Cells","c":"p2","o":7,"lam":0.0995,"K":1.45},{"s":"20K Cells","c":"p2","o":8,"lam":0.0959,"K":1.4},{"s":"20K Cells","c":"p2","o":9,"lam":0.0832,"K":1.42},{"s":"20K Cells","c":"p2","o":10,"lam":0.0691,"K":1.52},{"s":"20K Cells","c":"p2","o":11,"lam":0.055,"K":1.68},{"s":"20K Cells","c":"p2","o":12,"lam":0.0423,"K":1.93},{"s":"20K Cells","c":"p2","o":13,"lam":0.0338,"K":2.25},{"s":"20K Cells","c":"p2","o":14,"lam":0.0291,"K":2.52},{"s":"20K Cells","c":"p2","o":15,"lam":0.0296,"K":2.68},
{"s":"20K Cells","c":"p3","o":0,"lam":0.0302,"K":2.52},{"s":"20K Cells","c":"p3","o":1,"lam":0.0338,"K":2.44},{"s":"20K Cells","c":"p3","o":2,"lam":0.0451,"K":2.15},{"s":"20K Cells","c":"p3","o":3,"lam":0.0578,"K":1.93},{"s":"20K Cells","c":"p3","o":4,"lam":0.0705,"K":1.72},{"s":"20K Cells","c":"p3","o":5,"lam":0.0761,"K":1.61},{"s":"20K Cells","c":"p3","o":6,"lam":0.0733,"K":1.53},{"s":"20K Cells","c":"p3","o":7,"lam":0.062,"K":1.61},{"s":"20K Cells","c":"p3","o":8,"lam":0.0493,"K":1.8},{"s":"20K Cells","c":"p3","o":9,"lam":0.0386,"K":2.04},{"s":"20K Cells","c":"p3","o":10,"lam":0.0319,"K":2.31},{"s":"20K Cells","c":"p3","o":11,"lam":0.0302,"K":2.52},
{"s":"20K Cells","c":"p4","o":0,"lam":0.031,"K":2.36},{"s":"20K Cells","c":"p4","o":1,"lam":0.0352,"K":2.28},{"s":"20K Cells","c":"p4","o":2,"lam":0.0451,"K":2.04},{"s":"20K Cells","c":"p4","o":3,"lam":0.055,"K":1.87},{"s":"20K Cells","c":"p4","o":4,"lam":0.0592,"K":1.77},{"s":"20K Cells","c":"p4","o":5,"lam":0.0564,"K":1.71},{"s":"20K Cells","c":"p4","o":6,"lam":0.0471,"K":1.84},{"s":"20K Cells","c":"p4","o":7,"lam":0.0381,"K":2.03},{"s":"20K Cells","c":"p4","o":8,"lam":0.0324,"K":2.2},{"s":"20K Cells","c":"p4","o":9,"lam":0.031,"K":2.36}
],
"one":[{}]
},
"concat":[
{"width":178,"height":126,"layer":[
 {"data":{"name":"md"},"mark":{"type":"line","strokeWidth":2,"clip":true},
  "encoding":{"x":{"field":"D0","type":"quantitative","scale":{"domain":[0,3000],"nice":false},"axis":{"values":[0,1000,2000,3000],"title":"D₀","labelExpr":"''+datum.value"}},
   "y":{"field":"p","type":"quantitative","scale":{"domain":[0,2],"nice":false},"axis":{"values":[0,0.5,1,1.5,2],"title":"p(D₀|Cobs)","labelExpr":"''+datum.value"}},
   "color":{"field":"s","type":"nominal","scale":{"domain":["12K Cells","16K Cells","20K Cells"],"range":["#1b9e77","#d95f02","#7570b3"]},"legend":{"title":null}}}},
 {"data":{"name":"one"},"mark":{"type":"text","align":"left","baseline":"alphabetic","dy":-2,"fontSize":9,"font":"Liberation Serif"},"encoding":{"x":{"datum":0},"y":{"datum":2},"text":{"value":"×10⁻³"}}}
]},
{"width":178,"height":126,"data":{"name":"dl"},"mark":{"type":"line","strokeWidth":1.6,"clip":true},
 "encoding":{"x":{"field":"lam","type":"quantitative","scale":{"domain":[0,0.15],"nice":false},"axis":{"values":[0,0.05,0.1,0.15],"title":"λ","labelExpr":"''+datum.value"}},
  "y":{"field":"D0","type":"quantitative","scale":{"domain":[0,3000],"nice":false},"axis":{"values":[0,1000,2000,3000],"title":"D₀","labelExpr":"''+datum.value"}},
  "color":{"field":"s","type":"nominal","scale":{"domain":["12K Cells","16K Cells","20K Cells"],"range":["#1b9e77","#d95f02","#7570b3"]},"legend":{"title":null}},
  "detail":{"field":"c"},"order":{"field":"o","type":"quantitative"}}},
{"width":178,"height":126,"layer":[
 {"data":{"name":"dk"},"mark":{"type":"line","strokeWidth":1.6,"clip":true},
  "encoding":{"x":{"field":"K","type":"quantitative","scale":{"domain":[0,6],"nice":false},"axis":{"values":[0,2,4,6],"title":"K","labelExpr":"''+datum.value"}},
   "y":{"field":"D0","type":"quantitative","scale":{"domain":[0,3000],"nice":false},"axis":{"values":[0,1000,2000,3000],"title":"D₀","labelExpr":"''+datum.value"}},
   "color":{"field":"s","type":"nominal","scale":{"domain":["12K Cells","16K Cells","20K Cells"],"range":["#1b9e77","#d95f02","#7570b3"]},"legend":{"title":null}},
   "detail":{"field":"c"},"order":{"field":"o","type":"quantitative"}}},
 {"data":{"name":"one"},"mark":{"type":"text","align":"right","baseline":"middle","dy":23,"dx":1,"fontSize":9,"font":"Liberation Serif"},"encoding":{"x":{"datum":6},"y":{"datum":0},"text":{"value":"×10⁻³"}}}
]},
{"width":178,"height":126,"data":{"name":"dl"},"mark":{"type":"line","strokeWidth":1.6,"clip":true},
 "encoding":{"x":{"field":"D0","type":"quantitative","scale":{"domain":[0,3000],"nice":false},"axis":{"values":[0,1000,2000,3000],"title":"D₀","labelExpr":"''+datum.value"}},
  "y":{"field":"lam","type":"quantitative","scale":{"domain":[0,0.15],"nice":false},"axis":{"values":[0,0.05,0.1,0.15],"title":"λ","labelExpr":"''+datum.value"}},
  "color":{"field":"s","type":"nominal","scale":{"domain":["12K Cells","16K Cells","20K Cells"],"range":["#1b9e77","#d95f02","#7570b3"]},"legend":{"title":null}},
  "detail":{"field":"c"},"order":{"field":"o","type":"quantitative"}}},
{"width":178,"height":126,"data":{"name":"ml"},"mark":{"type":"line","strokeWidth":2,"clip":true},
 "encoding":{"x":{"field":"lam","type":"quantitative","scale":{"domain":[0,0.15],"nice":false},"axis":{"values":[0,0.05,0.1,0.15],"title":"λ","labelExpr":"''+datum.value"}},
  "y":{"field":"p","type":"quantitative","scale":{"domain":[0,100],"nice":false},"axis":{"values":[0,20,40,60,80,100],"title":"p(λ|Cobs)","labelExpr":"''+datum.value"}},
  "color":{"field":"s","type":"nominal","scale":{"domain":["12K Cells","16K Cells","20K Cells"],"range":["#1b9e77","#d95f02","#7570b3"]},"legend":{"title":null}}}},
{"width":178,"height":126,"layer":[
 {"data":{"name":"lk"},"mark":{"type":"line","strokeWidth":1.6,"clip":true},
  "encoding":{"x":{"field":"K","type":"quantitative","scale":{"domain":[0,6],"nice":false},"axis":{"values":[0,2,4,6],"title":"K","labelExpr":"''+datum.value"}},
   "y":{"field":"lam","type":"quantitative","scale":{"domain":[0,0.15],"nice":false},"axis":{"values":[0,0.05,0.1,0.15],"title":"λ","labelExpr":"''+datum.value"}},
   "color":{"field":"s","type":"nominal","scale":{"domain":["12K Cells","16K Cells","20K Cells"],"range":["#1b9e77","#d95f02","#7570b3"]},"legend":{"title":null}},
   "detail":{"field":"c"},"order":{"field":"o","type":"quantitative"}}},
 {"data":{"name":"one"},"mark":{"type":"text","align":"right","baseline":"middle","dy":23,"dx":1,"fontSize":9,"font":"Liberation Serif"},"encoding":{"x":{"datum":6},"y":{"datum":0},"text":{"value":"×10⁻³"}}}
]},
{"width":178,"height":126,"layer":[
 {"data":{"name":"dk"},"mark":{"type":"line","strokeWidth":1.6,"clip":true},
  "encoding":{"x":{"field":"D0","type":"quantitative","scale":{"domain":[0,3000],"nice":false},"axis":{"values":[0,1000,2000,3000],"title":"D₀","labelExpr":"''+datum.value"}},
   "y":{"field":"K","type":"quantitative","scale":{"domain":[0,6],"nice":false},"axis":{"values":[0,2,4,6],"title":"K","labelExpr":"''+datum.value"}},
   "color":{"field":"s","type":"nominal","scale":{"domain":["12K Cells","16K Cells","20K Cells"],"range":["#1b9e77","#d95f02","#7570b3"]},"legend":{"title":null}},
   "detail":{"field":"c"},"order":{"field":"o","type":"quantitative"}}},
 {"data":{"name":"one"},"mark":{"type":"text","align":"left","baseline":"alphabetic","dy":-2,"fontSize":9,"font":"Liberation Serif"},"encoding":{"x":{"datum":0},"y":{"datum":6},"text":{"value":"×10⁻³"}}}
]},
{"width":178,"height":126,"layer":[
 {"data":{"name":"lk"},"mark":{"type":"line","strokeWidth":1.6,"clip":true},
  "encoding":{"x":{"field":"lam","type":"quantitative","scale":{"domain":[0,0.15],"nice":false},"axis":{"values":[0,0.05,0.1,0.15],"title":"λ","labelExpr":"''+datum.value"}},
   "y":{"field":"K","type":"quantitative","scale":{"domain":[0,6],"nice":false},"axis":{"values":[0,2,4,6],"title":"K","labelExpr":"''+datum.value"}},
   "color":{"field":"s","type":"nominal","scale":{"domain":["12K Cells","16K Cells","20K Cells"],"range":["#1b9e77","#d95f02","#7570b3"]},"legend":{"title":null}},
   "detail":{"field":"c"},"order":{"field":"o","type":"quantitative"}}},
 {"data":{"name":"one"},"mark":{"type":"text","align":"left","baseline":"alphabetic","dy":-2,"fontSize":9,"font":"Liberation Serif"},"encoding":{"x":{"datum":0},"y":{"datum":6},"text":{"value":"×10⁻³"}}}
]},
{"width":178,"height":126,"layer":[
 {"data":{"name":"mk"},"mark":{"type":"line","strokeWidth":2,"clip":true},
  "encoding":{"x":{"field":"K","type":"quantitative","scale":{"domain":[0,6],"nice":false},"axis":{"values":[0,2,4,6],"title":"K","labelExpr":"''+datum.value"}},
   "y":{"field":"p","type":"quantitative","scale":{"domain":[0,2000],"nice":false},"axis":{"values":[0,500,1000,1500,2000],"title":"p(K|Cobs)","labelExpr":"''+datum.value"}},
   "color":{"field":"s","type":"nominal","scale":{"domain":["12K Cells","16K Cells","20K Cells"],"range":["#1b9e77","#d95f02","#7570b3"]},"legend":{"title":null}}}},
 {"data":{"name":"one"},"mark":{"type":"text","align":"right","baseline":"middle","dy":23,"dx":1,"fontSize":9,"font":"Liberation Serif"},"encoding":{"x":{"datum":6},"y":{"datum":0},"text":{"value":"×10⁻³"}}}
]}
],
"config":{
 "font":"Liberation Serif",
 "view":{"stroke":"black","strokeWidth":0.8},
 "axis":{"labelFont":"Liberation Serif","labelFontSize":10,"labelColor":"black","titleFont":"Liberation Serif","titleFontSize":12,"titleFontStyle":"italic","titleFontWeight":"normal","titleColor":"black","domainColor":"black","domainWidth":0.8,"tickColor":"black","tickWidth":0.8,"tickSize":-3,"labelPadding":6,"titlePadding":4,"grid":false},
 "axisY":{"labelPadding":4,"titlePadding":2},
 "legend":{"orient":"none","legendX":199,"legendY":-33,"direction":"horizontal","symbolType":"M-1,0H5","symbolSize":100,"symbolStrokeWidth":2,"labelFont":"Liberation Serif","labelFontSize":9.5,"labelColor":"black","strokeColor":"black","padding":3,"columnPadding":0,"labelOffset":22,"fillColor":"white"}
}
}
